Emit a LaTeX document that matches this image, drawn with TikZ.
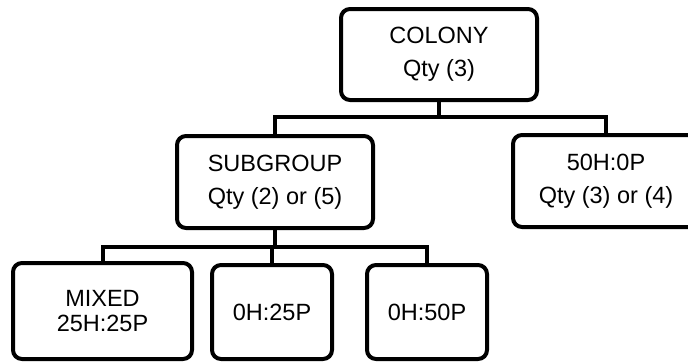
\documentclass[tikz,border=0pt]{standalone}
\usepackage{fontspec}
\setmainfont{Liberation Sans}
\begin{document}
\begin{tikzpicture}[x=1pt,y=-1pt,
  box/.style={draw=black, line width=4pt, rounded corners=9pt, fill=white,
    inner sep=0pt, align=center, font=\fontsize{23.5}{33}\selectfont},
  link/.style={draw=black, line width=4pt}]
\clip (0,0) rectangle (688,362);
\fill[white] (0,0) rectangle (688,362);
\node[box, minimum width=196pt, minimum height=91pt] (colony) at (439,54.5) {COLONY\\Qty (3)};
\node[box, minimum width=196pt, minimum height=92pt] (subgroup) at (275,182) {SUBGROUP\\Qty (2) or (5)};
\node[box, minimum width=186pt, minimum height=92pt] (fifty) at (606,181) {50H:0P\\Qty (3) or (4)};
\node[box, minimum width=179pt, minimum height=96pt, font=\fontsize{23.5}{25}\selectfont] (mixed) at (102.5,311) {MIXED\\25H:25P};
\node[box, minimum width=120pt, minimum height=94pt] (zerotwentyfive) at (272,312) {0H:25P};
\node[box, minimum width=120pt, minimum height=94pt] (zerofifty) at (427,312) {0H:50P};
\coordinate (busa) at (0,117);
\coordinate (busb) at (0,247);
\draw[link] (colony.south) -- (colony.south |- busa);
\draw[link] (subgroup.north) |- (fifty.north |- busa) -- (fifty.north);
\draw[link] (subgroup.south) -- (subgroup.south |- busb);
\draw[link] (mixed.north) |- (zerofifty.north |- busb) -- (zerofifty.north);
\draw[link] (zerotwentyfive.north) -- (zerotwentyfive.north |- busb);
\end{tikzpicture}
\end{document}
